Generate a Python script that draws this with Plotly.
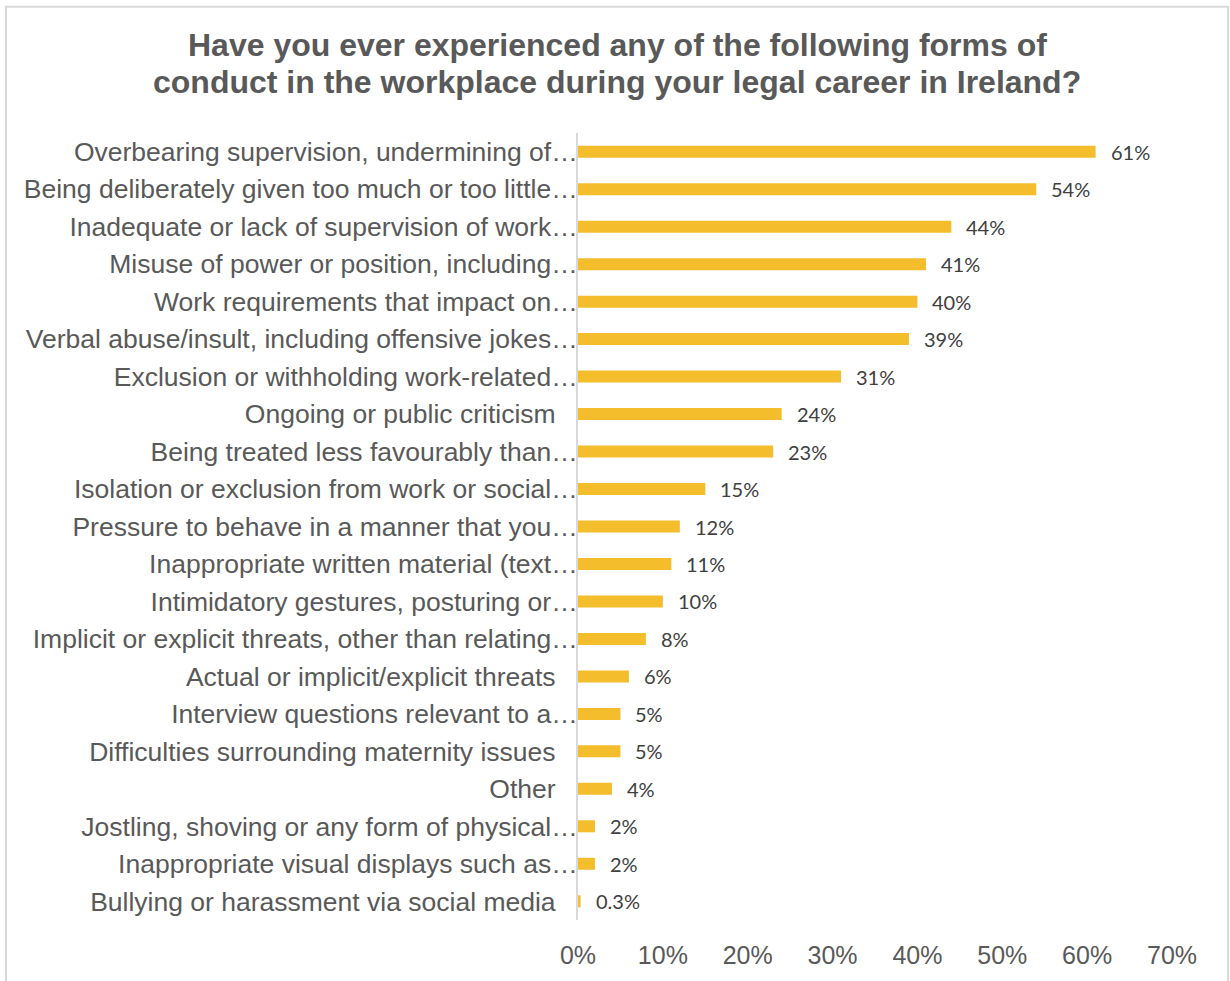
import plotly.graph_objects as go

# Survey responses: share of respondents who experienced each form of conduct
title_lines = [
    "Have you ever experienced any of the following forms of",
    "conduct in the workplace during your legal career in Ireland?",
]
categories = [
    "Overbearing supervision, undermining of…",
    "Being deliberately given too much or too little…",
    "Inadequate or lack of supervision of work…",
    "Misuse of power or position, including…",
    "Work requirements that impact on…",
    "Verbal abuse/insult, including offensive jokes…",
    "Exclusion or withholding work-related…",
    "Ongoing or public criticism",
    "Being treated less favourably than…",
    "Isolation or exclusion from work or social…",
    "Pressure to behave in a manner that you…",
    "Inappropriate written material (text…",
    "Intimidatory gestures, posturing or…",
    "Implicit or explicit threats, other than relating…",
    "Actual or implicit/explicit threats",
    "Interview questions relevant to a…",
    "Difficulties surrounding maternity issues",
    "Other",
    "Jostling, shoving or any form of physical…",
    "Inappropriate visual displays such as…",
    "Bullying or harassment via social media",
]
percent = [61, 54, 44, 41, 40, 39, 31, 24, 23, 15, 12, 11, 10, 8, 6, 5, 5, 4, 2, 2, 0.3]
x_ticks = [0, 10, 20, 30, 40, 50, 60, 70]
x_tick_labels = ["0%", "10%", "20%", "30%", "40%", "50%", "60%", "70%"]

BAR = "#F3BD2B"
GREY_TEXT = "#595959"
VALUE_TEXT = "#404040"
RULE = "#D9D9D9"


def fmt_pct(v):
    return f"{v:g}%"


# Full (untruncated) labels sit a little further from the axis than the clipped ones
tick_text = [c if c.endswith("…") else c + "\u00a0" * 3 for c in categories]

fig = go.Figure(
    go.Bar(
        x=percent,
        y=categories,
        orientation="h",
        marker=dict(color=BAR, line=dict(width=0)),
        width=0.32,
        hoverinfo="x+y",
    )
)

for cat, v in zip(categories, percent):
    fig.add_annotation(
        x=v, y=cat, xref="x", yref="y",
        text=fmt_pct(v), showarrow=False,
        xanchor="left", yanchor="middle", xshift=13,
        font=dict(family="Lato", size=20, color=VALUE_TEXT),
    )

L, R, T, B = 578, 1172, 133, 924  # plot-area edges in px
W, H = 1230, 981


def px_to_paper_x(px):
    return (px - L) / (R - L)


def px_to_paper_y(py):
    return (B - py) / (B - T)


# Two-line bold heading, centred over the chart frame
for i, line in enumerate(title_lines):
    fig.add_annotation(
        x=px_to_paper_x(617), y=px_to_paper_y(45 + 37 * i),
        xref="paper", yref="paper", text=f"<b>{line}</b>", showarrow=False,
        xanchor="center", yanchor="middle",
        font=dict(family="Liberation Sans", size=32, color=GREY_TEXT),
    )

# Light chart-area frame
fig.add_shape(
    type="rect", xref="paper", yref="paper",
    x0=px_to_paper_x(6), x1=px_to_paper_x(1228),
    y0=px_to_paper_y(1000), y1=px_to_paper_y(6),
    line=dict(color=RULE, width=2), fillcolor="rgba(0,0,0,0)", layer="above",
)

fig.update_layout(
    width=W, height=H,
    margin=dict(l=L, r=W - R, t=T, b=H - B, pad=0),
    paper_bgcolor="white", plot_bgcolor="white",
    showlegend=False,
    xaxis=dict(
        range=[0, 70], tickvals=x_ticks, ticktext=x_tick_labels,
        showgrid=False, zeroline=False, showline=False, ticks="",
        ticklabelstandoff=18,
        tickfont=dict(family="Liberation Sans", size=25, color=GREY_TEXT),
        fixedrange=True,
    ),
    yaxis=dict(
        categoryorder="array", categoryarray=categories[::-1],
        tickvals=categories, ticktext=tick_text,
        showgrid=False, zeroline=False,
        showline=True, linecolor=RULE, linewidth=2,
        ticks="", ticklabelstandoff=-7,
        tickfont=dict(family="Liberation Sans", size=26.5, color=GREY_TEXT),
        fixedrange=True,
    ),
)

fig.write_html("out.html")
